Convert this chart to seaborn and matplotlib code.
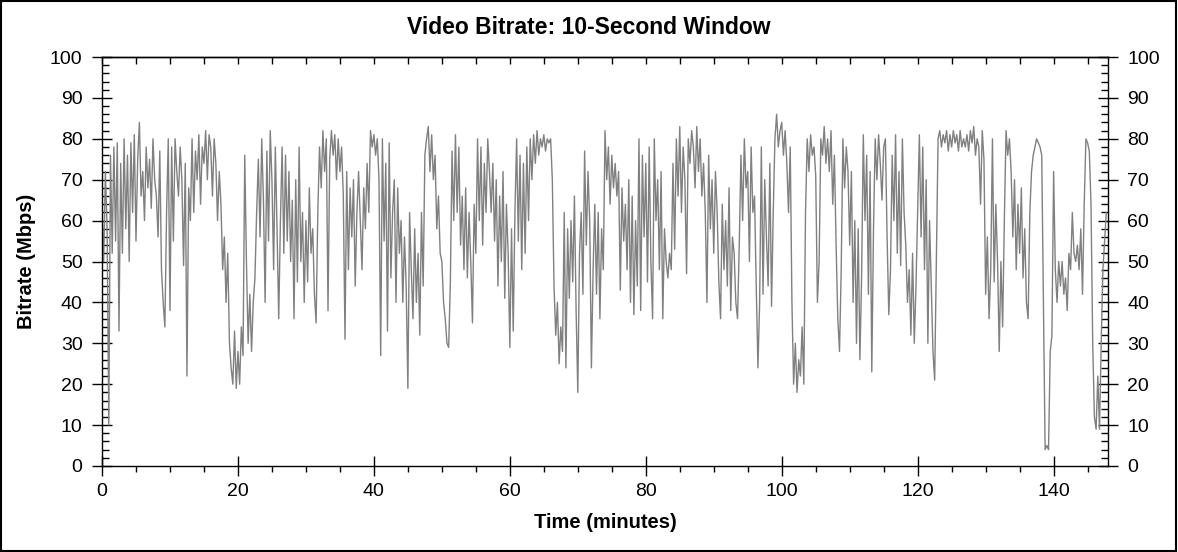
import numpy as np
import pandas as pd
import matplotlib
matplotlib.use("Agg")
import matplotlib.pyplot as plt
from matplotlib.ticker import MultipleLocator
from matplotlib.patches import Rectangle
import seaborn as sns

# ---- data: bitrate (Mbps), 4 samples per minute ----
SAMPLES_PER_MIN = 4
bitrate_0_25 = [
    62, 50, 72, 58,   10, 76, 52, 78,   55, 79, 33, 74,   52, 80, 58, 76,
    50, 79, 62, 81,   55, 75, 84, 66,   72, 60, 78, 68,   75, 63, 80, 70,
    66, 56, 77, 48,   40, 34, 62, 80,   38, 78, 55, 80,   72, 66, 78, 70,
    49, 74, 22, 68,   60, 80, 62, 77,   70, 81, 64, 78,   74, 82, 70, 81,
    78, 66, 80, 74,   60, 72, 64, 48,   56, 40, 52, 30,   24, 20, 33, 19,
    28, 20, 34, 27,   76, 50, 30, 42,   28, 40, 46, 62,   75, 56, 80, 65,
    40, 77, 55, 82,   70, 48, 78, 58,
]
bitrate_26_50 = [
    36, 60, 78, 52,   76, 55, 72, 50,   65, 36, 70, 45,   78, 50, 62, 40,
    60, 45, 68, 52,   58, 42, 35, 62,   78, 68, 82, 72,   80, 38, 75, 82,
    76, 81, 70, 80,   72, 78, 66, 31,   72, 48, 68, 56,   70, 44, 62, 72,
    60, 48, 68, 58,   74, 62, 82, 78,   81, 76, 80, 70,   27, 80, 55, 74,
    33, 79, 46, 62,   70, 40, 68, 52,   60, 40, 56, 44,   19, 62, 48, 36,
    58, 40, 52, 32,   62, 44, 76, 80,   83, 72, 81, 70,   76, 58, 66, 52,
    50, 40, 36, 30,
]
bitrate_51_76 = [
    29, 45, 77, 60,   81, 62, 78, 54,   66, 48, 68, 46,   62, 50, 35, 64,
    52, 80, 60, 78,   54, 74, 62, 80,   72, 62, 74, 55,   70, 44, 66, 50,
    72, 41, 64, 52,   29, 58, 33, 62,   80, 55, 76, 48,   74, 52, 78, 60,
    80, 70, 81, 74,   82, 76, 80, 78,   81, 77, 80, 79,   80, 70, 44, 32,
    40, 25, 34, 28,   62, 24, 58, 41,   60, 45, 66, 38,   18, 52, 62, 42,
    77, 54, 72, 60,   24, 48, 64, 42,   62, 36, 58, 48,   82, 70, 78, 64,
    76, 68, 74, 66,   72, 43, 68, 55,
]
bitrate_77_101 = [
    64, 48, 70, 40,   66, 37, 60, 44,   80, 38, 76, 56,   74, 45, 78, 50,
    36, 80, 60, 70,   48, 72, 36, 58,   50, 46, 52, 48,   74, 53, 80, 66,
    83, 62, 78, 70,   47, 80, 74, 82,   78, 68, 83, 72,   80, 66, 74, 62,
    40, 76, 58, 70,   52, 72, 62, 45,   36, 64, 48, 60,   44, 68, 38, 56,
    52, 40, 36, 54,   76, 60, 80, 68,   72, 50, 78, 62,   66, 44, 24, 40,
    78, 42, 70, 56,   44, 74, 39, 62,   80, 86, 78, 82,   84, 76, 82, 74,
    62, 78, 40, 20,
]
bitrate_102_128 = [
    30, 18, 26, 22,   34, 20, 62, 80,   72, 81, 76, 78,   71, 40, 50, 80,
    76, 83, 74, 80,   72, 82, 64, 76,   54, 36, 28, 48,   80, 68, 78, 72,
    54, 72, 40, 60,   30, 58, 26, 46,   81, 60, 76, 42,   72, 23, 58, 80,
    70, 81, 74, 65,   78, 80, 56, 37,   48, 76, 60, 81,   52, 72, 49, 80,
    62, 54, 40, 48,   32, 52, 30, 44,   62, 81, 56, 78,   48, 70, 30, 60,
    44, 28, 21, 50,   80, 82, 78, 81,   79, 82, 77, 81,   78, 82, 79, 81,
    77, 82, 78, 80,   78, 81, 77, 82,   79, 83, 76, 80,
]
bitrate_129_147 = [
    78, 64, 82, 75,   42, 56, 36, 48,   80, 45, 64, 50,   28, 50, 34, 60,
    82, 76, 80, 72,   56, 70, 48, 64,   52, 68, 46, 58,   40, 36, 62, 72,
    76, 78, 80, 79,   78, 76, 40, 4,    5, 4, 28, 32,     72, 48, 40, 50,
    44, 50, 42, 46,   38, 52, 48, 62,   52, 50, 54, 48,   58, 42, 64, 80,
    79, 77, 64, 30,   12, 9, 22, 9,     30, 48, 55, 62,
]

x_ticks = [0, 20, 40, 60, 80, 100, 120, 140]
y_ticks = [0, 10, 20, 30, 40, 50, 60, 70, 80, 90, 100]
title = "Video Bitrate: 10-Second Window"
x_label = "Time (minutes)"
y_label = "Bitrate (Mbps)"

bitrate = (bitrate_0_25 + bitrate_26_50 + bitrate_51_76 + bitrate_77_101
           + bitrate_102_128 + bitrate_129_147)
minutes = np.arange(len(bitrate)) / SAMPLES_PER_MIN
df = pd.DataFrame({"minutes": minutes, "bitrate": bitrate})

# ---- plotting ----
sns.set_theme(style="white")
plt.rcParams["font.family"] = ["Liberation Sans", "DejaVu Sans"]
plt.rcParams.update({"text.color": "black", "axes.labelcolor": "black",
                     "xtick.color": "black", "ytick.color": "black",
                     "xtick.labelcolor": "black", "ytick.labelcolor": "black"})

fig = plt.figure(figsize=(11.78, 5.52), dpi=100)
ax = fig.add_axes([102 / 1178, 1 - 466 / 552, (1108 - 102) / 1178, (466 - 57) / 552])

sns.lineplot(data=df, x="minutes", y="bitrate", ax=ax, color="#808080",
             linewidth=1.0, estimator=None, sort=False)

ax.set_xlim(0, 148)
ax.set_ylim(0, 100)
ax.set_xticks(x_ticks)
ax.set_yticks(y_ticks)
ax.xaxis.set_minor_locator(MultipleLocator(5))
ax.yaxis.set_minor_locator(MultipleLocator(2))

for s in ax.spines.values():
    s.set_visible(True)
    s.set_color("black")
    s.set_linewidth(1.0)

ax.tick_params(axis="x", which="major", direction="inout", length=14, width=1,
               color="black", labelcolor="black", bottom=True, top=False,
               labelsize=14, pad=5.5)
ax.tick_params(axis="x", which="minor", direction="out", length=4, width=1,
               color="black", bottom=True, top=False)
ax.tick_params(axis="y", which="major", direction="inout", length=14, width=1,
               color="black", labelcolor="black", left=True, right=True,
               labelleft=True, labelright=True, labelsize=14, pad=7)
ax.tick_params(axis="y", which="minor", direction="in", length=5, width=1,
               color="black", left=True, right=True)

top = ax.secondary_xaxis("top")
top.set_xticks(np.arange(0, 150, 5))
top.tick_params(axis="x", direction="in", length=5, width=1, color="black",
                labeltop=False)
top.spines["top"].set_linewidth(1.0)
top.spines["top"].set_color("black")

ax.set_xlabel(x_label, fontsize=14.5, fontweight="bold", va="center", color="black")
ax.xaxis.set_label_coords(0.5, (466 - 523) / 409)
ax.set_ylabel(y_label, fontsize=14.5, fontweight="bold", va="center", color="black")
ax.yaxis.set_label_coords((27 - 102) / 1006, 0.5)
fig.text(0.5, 1 - 27 / 552, title, ha="center", va="center",
         fontsize=16.5, fontweight="bold", color="black")

fig.patches.append(Rectangle((0.001, 0.002), 0.997, 0.996, transform=fig.transFigure,
                             fill=False, edgecolor="black", linewidth=1.5))

fig.savefig("out.png", dpi=100, facecolor="white")
